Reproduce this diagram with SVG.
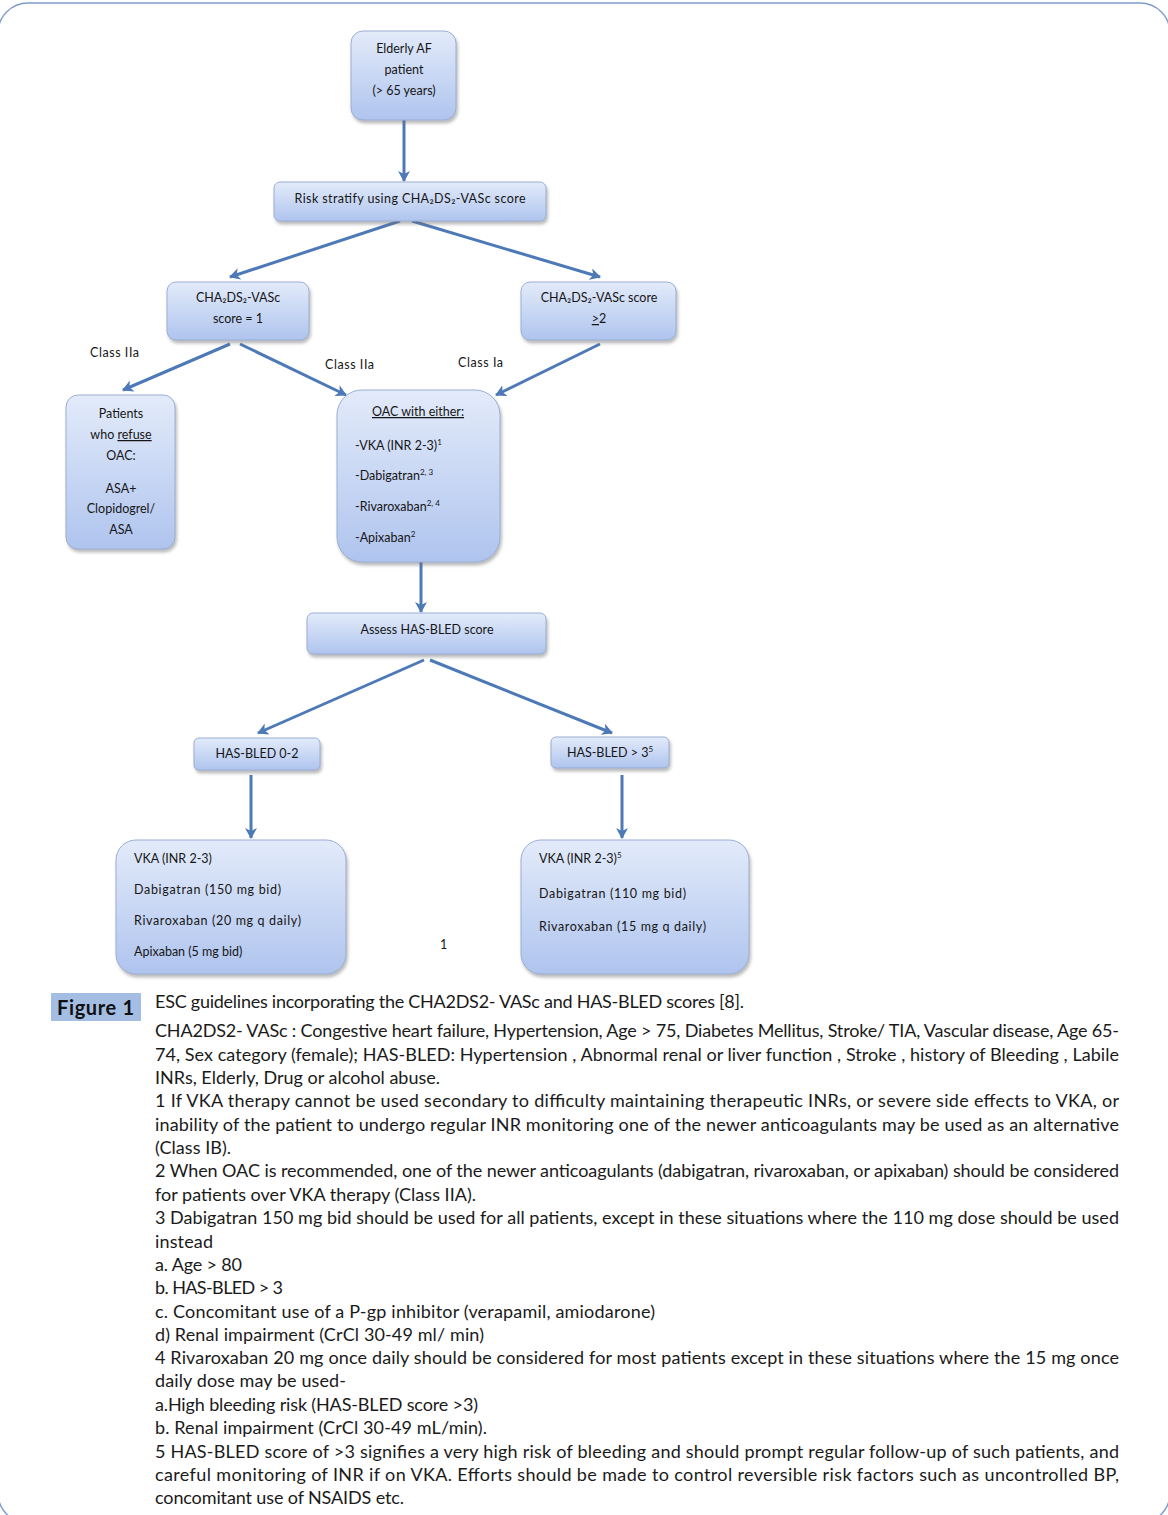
<svg xmlns="http://www.w3.org/2000/svg" width="1168" height="1515" viewBox="0 0 1168 1515">
<defs>
<linearGradient id="g" x1="0" y1="0" x2="0" y2="1">
<stop offset="0" stop-color="#e3ebfa"/>
<stop offset="1" stop-color="#afc4ee"/>
</linearGradient>
<filter id="sh" x="-10%" y="-10%" width="130%" height="140%">
<feDropShadow dx="1.5" dy="3" stdDeviation="1.8" flood-color="#6b6b6b" flood-opacity="0.45"/>
</filter>
<marker id="ah" viewBox="0 0 12 12" refX="10" refY="6" markerWidth="12" markerHeight="12" markerUnits="userSpaceOnUse" orient="auto">
<path d="M0,0 L11,6 L0,12 L3,6 Z" fill="#4e79b7"/>
</marker>
<style>
.box{fill:url(#g);stroke:#9aaed3;stroke-width:1;filter:url(#sh)}
.t{font-family:Lato,"Noto Sans","DejaVu Sans",sans-serif;font-size:12.5px;fill:#161616;text-anchor:middle}
.l{font-family:Lato,"Noto Sans","DejaVu Sans",sans-serif;font-size:12.5px;fill:#161616}
.c{font-family:Lato,"Noto Sans","DejaVu Sans",sans-serif;font-size:18px;fill:#1a1a1a}
.arr{stroke:#4e79b7;stroke-width:3;fill:none;marker-end:url(#ah)}
.sup{font-size:8px}
</style>
</defs>
<rect x="-2" y="3" width="1172" height="1520" rx="30" fill="none" stroke="#7f9ccb" stroke-width="1.5"/>

<g id="connectors">
<line class="arr" x1="404" y1="120" x2="404" y2="181"/>
<line class="arr" x1="400" y1="221" x2="230" y2="277"/>
<line class="arr" x1="412" y1="221" x2="600" y2="277"/>
<line class="arr" x1="230" y1="344" x2="123" y2="390"/>
<line class="arr" x1="240" y1="344" x2="346" y2="395"/>
<line class="arr" x1="600" y1="344" x2="496" y2="395"/>
<line class="arr" x1="421" y1="562" x2="421" y2="612"/>
<line class="arr" x1="424" y1="660" x2="258" y2="733"/>
<line class="arr" x1="430" y1="660" x2="612" y2="733"/>
<line class="arr" x1="251" y1="775" x2="251" y2="838"/>
<line class="arr" x1="622" y1="775" x2="622" y2="838"/>
</g>

<g id="labels">
<text class="l" x="90" y="357" textLength="49">Class IIa</text>
<text class="l" x="325" y="369" textLength="49">Class IIa</text>
<text class="l" x="458" y="367" textLength="45">Class Ia</text>
<text class="l" x="440" y="949">1</text>
</g>

<g id="n1">
<rect class="box" x="351" y="31" width="105" height="89" rx="12"/>
<text class="t" x="404" y="53">Elderly AF</text>
<text class="t" x="404" y="74">patient</text>
<text class="t" x="404" y="95">(&gt; 65 years)</text>
</g>

<g id="n2">
<rect class="box" x="274" y="182" width="272" height="39" rx="6"/>
<text class="t" x="410" y="203" textLength="231">Risk stratify using CHA₂DS₂-VASc score</text>
</g>

<g id="n3">
<rect class="box" x="167" y="282" width="142" height="58" rx="9"/>
<text class="t" x="238" y="302">CHA₂DS₂-VASc</text>
<text class="t" x="238" y="323">score = 1</text>
</g>

<g id="n4">
<rect class="box" x="521" y="282" width="155" height="58" rx="9"/>
<text class="t" x="599" y="302">CHA₂DS₂-VASc score</text>
<text class="t" x="599" y="323"><tspan text-decoration="underline">&gt;</tspan>2</text>
</g>

<g id="n5">
<rect class="box" x="66" y="395" width="109" height="154" rx="12"/>
<text class="t" x="121" y="418">Patients</text>
<text class="t" x="121" y="439">who <tspan text-decoration="underline">refuse</tspan></text>
<text class="t" x="121" y="460">OAC:</text>
<text class="t" x="121" y="493">ASA+</text>
<text class="t" x="121" y="513">Clopidogrel/</text>
<text class="t" x="121" y="534">ASA</text>
</g>

<g id="n6">
<rect class="box" x="337" y="390" width="163" height="172" rx="25"/>
<text class="t" x="418" y="416" text-decoration="underline">OAC with either:</text>
<text class="l" x="355" y="450">-VKA (INR 2-3)<tspan class="sup" dy="-5">1</tspan></text>
<text class="l" x="355" y="480">-Dabigatran<tspan class="sup" dy="-5">2, 3</tspan></text>
<text class="l" x="355" y="511">-Rivaroxaban<tspan class="sup" dy="-5">2, 4</tspan></text>
<text class="l" x="355" y="542">-Apixaban<tspan class="sup" dy="-5">2</tspan></text>
</g>

<g id="n7">
<rect class="box" x="307" y="613" width="239" height="41" rx="6"/>
<text class="t" x="427" y="634">Assess HAS-BLED score</text>
</g>

<g id="n8">
<rect class="box" x="194" y="738" width="126" height="32" rx="5"/>
<text class="t" x="257" y="758">HAS-BLED 0-2</text>
</g>

<g id="n9">
<rect class="box" x="551" y="737" width="118" height="31" rx="5"/>
<text class="t" x="610" y="757">HAS-BLED &gt; 3<tspan class="sup" dy="-5">5</tspan></text>
</g>

<g id="n10">
<rect class="box" x="116" y="840" width="230" height="134" rx="20"/>
<text class="l" x="134" y="863">VKA (INR 2-3)</text>
<text class="l" x="134" y="894" textLength="147">Dabigatran (150 mg bid)</text>
<text class="l" x="134" y="925" textLength="167">Rivaroxaban (20 mg q daily)</text>
<text class="l" x="134" y="956">Apixaban (5 mg bid)</text>
</g>

<g id="n11">
<rect class="box" x="521" y="840" width="228" height="134" rx="20"/>
<text class="l" x="539" y="863">VKA (INR 2-3)<tspan class="sup" dy="-5">5</tspan></text>
<text class="l" x="539" y="898" textLength="147">Dabigatran (110 mg bid)</text>
<text class="l" x="539" y="931" textLength="167">Rivaroxaban (15 mg q daily)</text>
</g>

<g id="caption">
<rect x="51" y="993" width="90" height="28" fill="#a4bde3"/>
<text x="57" y="1015" font-family="Lato,'Noto Sans',sans-serif" font-size="20" font-weight="bold" fill="#111" textLength="77">Figure 1</text>
<text class="c" x="155" y="1008" textLength="589">ESC guidelines incorporating the CHA2DS2- VASc and HAS-BLED scores [8].</text>
<text class="c" x="155" y="1037" textLength="964">CHA2DS2- VASc : Congestive heart failure, Hypertension, Age &gt; 75, Diabetes Mellitus, Stroke/ TIA, Vascular disease, Age 65-</text>
<text class="c" x="155" y="1061" textLength="964">74, Sex category (female); HAS-BLED: Hypertension , Abnormal renal or liver function , Stroke , history of Bleeding , Labile</text>
<text class="c" x="155" y="1084" textLength="285">INRs, Elderly, Drug or alcohol abuse.</text>
<text class="c" x="155" y="1107" textLength="964">1 If VKA therapy cannot be used secondary to difficulty maintaining therapeutic INRs, or severe side effects to VKA, or</text>
<text class="c" x="155" y="1131" textLength="964">inability of the patient to undergo regular INR monitoring one of the newer anticoagulants may be used as an alternative</text>
<text class="c" x="155" y="1154" textLength="76">(Class IB).</text>
<text class="c" x="155" y="1177" textLength="964">2 When OAC is recommended, one of the newer anticoagulants (dabigatran, rivaroxaban, or apixaban) should be considered</text>
<text class="c" x="155" y="1201" textLength="321">for patients over VKA therapy (Class IIA).</text>
<text class="c" x="155" y="1224" textLength="964">3 Dabigatran 150 mg bid should be used for all patients, except in these situations where the 110 mg dose should be used</text>
<text class="c" x="155" y="1248" textLength="58">instead</text>
<text class="c" x="155" y="1271" textLength="87">a. Age &gt; 80</text>
<text class="c" x="155" y="1294" textLength="128">b. HAS-BLED &gt; 3</text>
<text class="c" x="155" y="1318" textLength="500">c. Concomitant use of a P-gp inhibitor (verapamil, amiodarone)</text>
<text class="c" x="155" y="1341" textLength="329">d) Renal impairment (CrCl 30-49 ml/ min)</text>
<text class="c" x="155" y="1364" textLength="964">4 Rivaroxaban 20 mg once daily should be considered for most patients except in these situations where the 15 mg once</text>
<text class="c" x="155" y="1387" textLength="191">daily dose may be used-</text>
<text class="c" x="155" y="1411" textLength="323">a.High bleeding risk (HAS-BLED score &gt;3)</text>
<text class="c" x="155" y="1434" textLength="332">b. Renal impairment (CrCl 30-49 mL/min).</text>
<text class="c" x="155" y="1458" textLength="964">5 HAS-BLED score of &gt;3 signifies a very high risk of bleeding and should prompt regular follow-up of such patients, and</text>
<text class="c" x="155" y="1481" textLength="964">careful monitoring of INR if on VKA. Efforts should be made to control reversible risk factors such as uncontrolled BP,</text>
<text class="c" x="155" y="1504" textLength="249">concomitant use of NSAIDS etc.</text>
</g>
</svg>
